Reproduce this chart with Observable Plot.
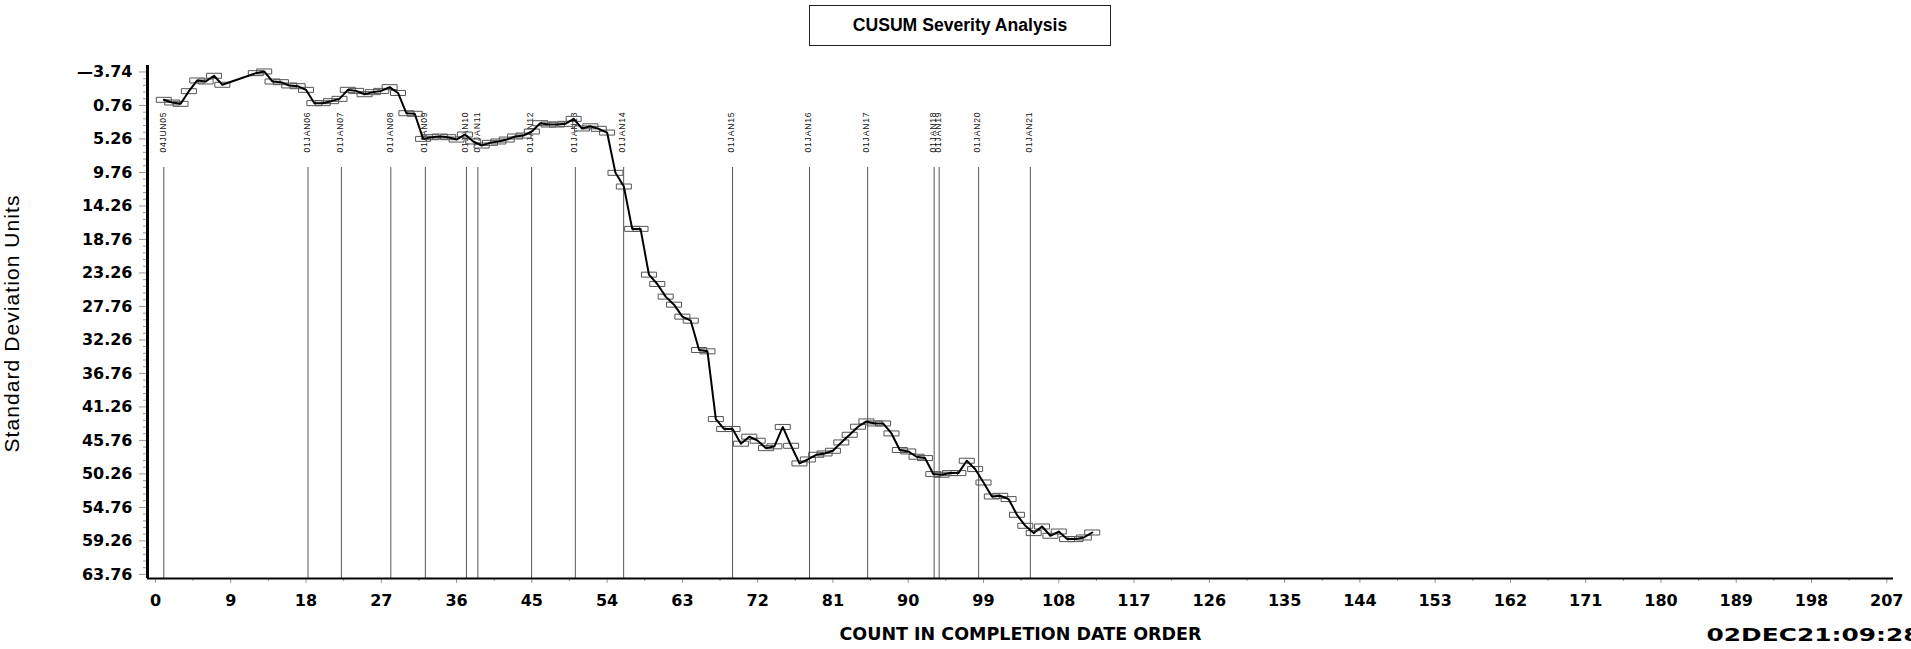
<!DOCTYPE html>
<html><head><meta charset="utf-8">
<script src="https://cdn.jsdelivr.net/npm/d3@7"></script>
<script src="https://cdn.jsdelivr.net/npm/@observablehq/plot@0.6"></script>
<style>
html,body{margin:0;padding:0;background:#fff;}
#wrap{position:relative;width:1911px;height:649px;overflow:hidden;background:#fff;}
#chart{position:absolute;left:0;top:0;}
#title{position:absolute;left:809px;top:5px;width:302px;height:41px;box-sizing:border-box;border:1.5px solid #222;display:flex;align-items:center;justify-content:center;font:bold 17.6px "Liberation Sans",Arial,sans-serif;color:#000;}
</style></head><body>
<div id="wrap"><div id="chart"></div><div id="title"></div></div>
<script>
const title = "CUSUM Severity Analysis";
const xLabel = "COUNT IN COMPLETION DATE ORDER";
const yLabel = "Standard Deviation Units";
const stamp = "02DEC21:09:28";

const counts = [1,2,3,4,5,6,7,8,12,13,14,15,16,17,18,19,20,21,22,23,24,25,26,27,28,29,30,
  31,32,33,34,35,36,37,38,39,40,41,42,43,44,45,46,47,48,49,50,51,52,53,54,55,56,57,58,59,60,
  61,62,63,64,65,66,67,68,69,70,71,72,73,74,75,76,77,78,79,80,81,82,83,84,85,86,87,88,89,90,
  91,92,93,94,95,96,97,98,99,100,101,102,103,104,105,106,107,108,109,110,111,112];
const cusum = [0.00,0.36,0.54,-1.16,-2.60,-2.46,-3.23,-2.02,-3.58,-3.81,-2.46,-2.37,-1.93,-1.83,-1.34,0.45,0.45,0.18,-0.13,-1.34,-1.20,-0.75,-1.03,-1.20,-1.70,-0.92,1.80,
  1.88,5.25,5.02,4.93,5.02,5.34,4.66,5.60,6.14,5.78,5.60,5.34,4.93,4.80,4.26,3.14,3.32,3.32,3.23,2.56,3.85,3.56,3.90,4.40,9.81,11.65,17.34,17.34,23.49,24.74,
  26.44,27.52,29.13,29.67,33.61,33.79,42.89,44.23,44.23,46.20,45.26,45.80,46.80,46.55,43.95,46.48,48.85,48.32,47.69,47.51,47.15,46.03,45.00,43.92,43.21,43.48,43.48,44.82,47.05,47.24,
  47.95,48.13,50.28,50.37,50.15,50.15,48.49,49.61,51.41,53.29,53.20,53.64,55.75,57.23,58.21,57.32,58.57,58.00,59.02,59.02,58.80,58.13];

const yearLineCounts = [1.0,18.24,22.23,28.14,32.27,37.18,38.55,44.97,50.2,55.98,69.0,78.2,85.15,93.1,93.7,98.42,104.6];
const yearLineLabels = ["04JUN05","01JAN06","01JAN07","01JAN08","01JAN09","01JAN10","01JAN11","01JAN12","01JAN13","01JAN14","01JAN15","01JAN16","01JAN17","01JAN18","01JAN19","01JAN20","01JAN21"];

const yTickValues = [-3.74,0.76,5.26,9.76,14.26,18.76,23.26,27.76,32.26,36.76,41.26,45.76,50.26,54.76,59.26,63.76];
const xTickValues = [0,9,18,27,36,45,54,63,72,81,90,99,108,117,126,135,144,153,162,171,180,189,198,207];

const xDomain = [-0.95, 207.8];
const yDomain = [-4.61, 64.31];

document.getElementById("title").textContent = title;

const points = counts.map((c, i) => ({count: c, value: cusum[i]}));
const years = yearLineCounts.map((c, i) => ({count: c, label: yearLineLabels[i]}));
const minorY = [];
for (let i = 0; i < yTickValues.length - 1; i++)
  for (let k = 1; k < 5; k++) minorY.push(yTickValues[i] + (yTickValues[i + 1] - yTickValues[i]) * k / 5);
const minorX = xTickValues.slice(0, -1).map((v, i) => (v + xTickValues[i + 1]) / 2);
const fmt = d => (d < 0 ? "\u2014" : "") + Math.abs(d).toFixed(2);
const box = {draw(ctx) { ctx.moveTo(-7.5, -2.5); ctx.lineTo(7.5, -2.5); ctx.lineTo(7.5, 2.5); ctx.lineTo(-7.5, 2.5); ctx.closePath(); }};

const chart = Plot.plot({
  width: 1911, height: 649,
  marginLeft: 147, marginRight: 18, marginTop: 65, marginBottom: 71,
  style: {fontFamily: "'DejaVu Sans', sans-serif", background: "white", color: "black"},
  x: {domain: xDomain, axis: null},
  y: {domain: yDomain, reverse: true, axis: null},
  marks: [
    Plot.ruleX(years, {x: "count", insetTop: 102, stroke: "#555", strokeWidth: 1}),
    Plot.text(years, {x: "count", text: "label", frameAnchor: "top", dy: 87, dx: -1, rotate: -90, textAnchor: "start", lineAnchor: "middle", fontSize: 8.5, fontFamily: "'Liberation Sans', sans-serif", fill: "#111"}),
    Plot.axisY(minorY, {anchor: "left", tickSize: 4, stroke: "#999", fill: "none", label: null}),
    Plot.axisY(yTickValues, {anchor: "left", tickSize: 8, tickPadding: 7, stroke: "#999", fill: "black", fontSize: 16, fontWeight: "bold", tickFormat: fmt, label: null}),
    Plot.axisX(minorX, {anchor: "bottom", tickSize: 3, stroke: "#999", fill: "none", label: null}),
    Plot.axisX(xTickValues, {anchor: "bottom", tickSize: 5, tickPadding: 11, stroke: "#999", fill: "black", fontSize: 16, fontWeight: "bold", label: null}),
    Plot.ruleY([yDomain[1]], {stroke: "black", strokeWidth: 2}),
    Plot.ruleX([xDomain[0]], {stroke: "black", strokeWidth: 3}),
    Plot.dot(points, {x: "count", y: "value", symbol: box, stroke: "#555", strokeWidth: 1, fill: "none"}),
    Plot.line(points, {x: "count", y: "value", stroke: "black", strokeWidth: 2}),
    Plot.text([xLabel], {frameAnchor: "bottom", dy: 56, lineAnchor: "middle", fontSize: 17.5, fontWeight: "bold", fill: "black"}),
    Plot.text([yLabel], {frameAnchor: "left", dx: -128.5, dy: 2, rotate: -90, textAnchor: "middle", lineAnchor: "bottom", fontSize: 21, fontFamily: "'Liberation Sans', sans-serif", fill: "black"}),
    Plot.text([stamp], {frameAnchor: "bottom-right", dx: -187, dy: 57, textAnchor: "start", lineAnchor: "middle", fontSize: 18, fontWeight: "bold", fill: "black"})
  ]
});
document.getElementById("chart").appendChild(chart);

d3.select(chart).selectAll("text").each(function() {
  const t = this.textContent;
  const s = d3.select(this);
  if (yearLineLabels.includes(t)) s.attr("textLength", 40).attr("lengthAdjust", "spacing");
  else if (t === yLabel) s.attr("textLength", 257).attr("lengthAdjust", "spacing");
  else if (t === stamp) s.attr("textLength", 214).attr("lengthAdjust", "spacingAndGlyphs");
  else if (t === xLabel) s.attr("textLength", 362).attr("lengthAdjust", "spacingAndGlyphs");
});
</script>
</body></html>
